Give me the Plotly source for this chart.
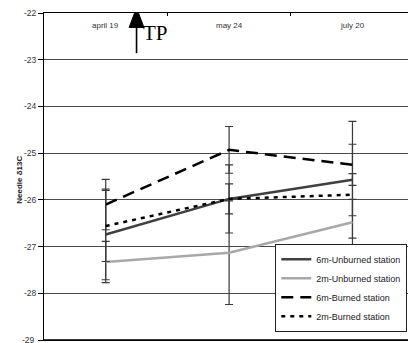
import plotly.graph_objects as go

# Sampling dates along the season
dates = ["april 19", "may 24", "july 20"]

# Needle δ13C means per station
unburned_6m = [-26.74, -25.98, -25.57]
unburned_2m = [-27.33, -27.13, -26.48]
burned_6m = [-26.10, -24.93, -25.25]
burned_2m = [-26.56, -25.98, -25.89]

# Error bar half-widths per station
err_unburned_6m = [0.97, 0.73, 1.25]
err_unburned_2m = [0.44, 1.11, 0.49]
err_burned_6m = [0.54, 0.50, 0.44]
err_burned_2m = [0.76, 0.32, 0.45]

y_ticks = [-22, -23, -24, -25, -26, -27, -28, -29]

xpos = list(range(len(dates)))

series = [
    ("6m-Unburned station", unburned_6m, err_unburned_6m, "#404040", "solid"),
    ("2m-Unburned station", unburned_2m, err_unburned_2m, "#a8a8a8", "solid"),
    ("6m-Burned station", burned_6m, err_burned_6m, "#000000", "12px,7px"),
    ("2m-Burned station", burned_2m, err_burned_2m, "#000000", "4px,5px"),
]

fig = go.Figure()
for name, vals, errs, color, dash in series:
    fig.add_trace(go.Scatter(
        x=xpos, y=vals, name=name, mode="lines",
        line=dict(color=color, width=2.5, dash=dash),
        error_y=dict(type="data", array=errs, visible=True,
                     color="#3a3a3a", thickness=1.2, width=4),
    ))

# Date labels sit just under the top frame
for xv, label in zip(xpos, dates):
    fig.add_annotation(x=xv, y=1, xref="x", yref="paper", yshift=-12,
                       text=label, showarrow=False,
                       xanchor="center", yanchor="middle",
                       font=dict(size=8, color="#333"))

# Lowest tick label sits on the bottom edge of the page
fig.add_annotation(x=0, y=y_ticks[-1], xref="paper", yref="y", xshift=-7,
                   text=str(y_ticks[-1]), showarrow=False,
                   xanchor="right", yanchor="middle",
                   font=dict(size=8.5, color="#333"))

# TP marker: arrow pointing up past the top of the plot
fig.add_shape(type="line", x0=0.25, x1=0.25, y0=-22.86, y1=-22.25,
              line=dict(color="black", width=1.6), layer="above")
fig.add_shape(type="path",
              path="M 0.19,-22.31 L 0.31,-22.31 L 0.25,-21.89 Z",
              fillcolor="black", line=dict(color="black", width=1),
              layer="above")
fig.add_annotation(x=0.285, y=-22.43, text="TP", showarrow=False,
                   xanchor="left", yanchor="middle",
                   font=dict(family="Liberation Serif, Times New Roman, serif",
                             size=21, color="black"))

# Y-axis title
fig.add_annotation(xref="paper", yref="paper", x=-0.066, y=0.49,
                   text="<b>Needle δ13C</b>", textangle=-90, showarrow=False,
                   xanchor="center", yanchor="middle",
                   font=dict(size=8, color="#222"))

# Bottom frame line
fig.add_shape(type="line", xref="paper", yref="paper", x0=0, x1=1, y0=0, y1=0,
              line=dict(color="black", width=1.5), layer="above")

fig.update_layout(
    width=408, height=343,
    margin=dict(l=44, r=0, t=13, b=3),
    paper_bgcolor="white", plot_bgcolor="white",
    font=dict(family="Arial, Liberation Sans, sans-serif", color="#222"),
    showlegend=True,
    legend=dict(
        x=0.998, xanchor="right", y=0.025, yanchor="bottom",
        bgcolor="white", bordercolor="#222", borderwidth=1,
        font=dict(size=9, color="#222"),
        tracegroupgap=0, itemwidth=30,
    ),
    xaxis=dict(
        range=[-0.5, 2.45],
        tickmode="array", tickvals=[0.5, 1.5], ticktext=["", ""],
        side="top", showticklabels=False, automargin=False,
        ticks="inside", ticklen=3, tickcolor="black",
        showline=True, linecolor="black", linewidth=1.2, mirror=True,
        showgrid=False, zeroline=False,
    ),
    yaxis=dict(
        range=[-29, -22], automargin=False,
        tickmode="array", tickvals=y_ticks,
        ticktext=[str(v) for v in y_ticks],
        tickfont=dict(size=8.5, color="#333"),
        ticks="outside", ticklen=5, tickcolor="black",
        showline=True, linecolor="black", linewidth=1.2,
        showgrid=True, gridcolor="#4a4a4a", gridwidth=1,
        zeroline=False,
    ),
)

fig.write_html("out.html")
